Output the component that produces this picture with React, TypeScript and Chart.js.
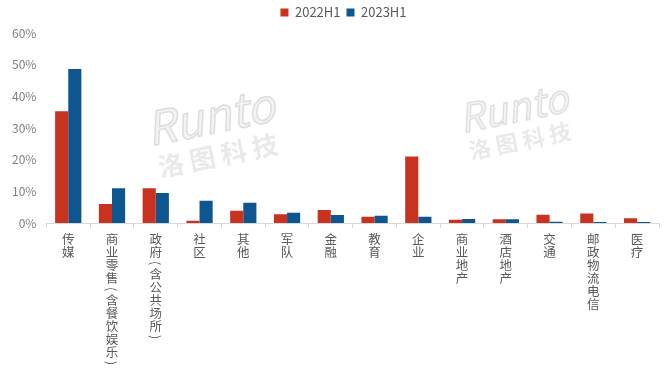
import React, { useEffect, useRef } from "react";
import { Chart, registerables } from "chart.js";

Chart.register(...registerables);

const categories: string[] = [
  "传媒",
  "商业零售(含餐饮娱乐)",
  "政府（含公共场所）",
  "社区",
  "其他",
  "军队",
  "金融",
  "教育",
  "企业",
  "商业地产",
  "酒店地产",
  "交通",
  "邮政物流电信",
  "医疗",
];
const series2022H1: number[] = [35.3, 6.0, 11.0, 0.7, 3.9, 2.8, 4.1, 2.0, 21.0, 1.0, 1.2, 2.6, 3.0, 1.5];
const series2023H1: number[] = [48.6, 11.0, 9.5, 7.0, 6.4, 3.2, 2.5, 2.3, 2.0, 1.3, 1.2, 0.4, 0.3, 0.3];
const yTicks: number[] = [0, 10, 20, 30, 40, 50, 60];
const seriesNames: string[] = ["2022H1", "2023H1"];

const FONT = "'Noto Sans CJK SC', 'Noto Sans', sans-serif";

const watermark = {
  id: "watermark",
  beforeDatasetsDraw(chart: any) {
    const ctx = chart.ctx;
    const spots = [
      { x: 212, y: 126, s: 1 },
      { x: 515, y: 116, s: 0.85 },
    ];
    ctx.save();
    for (const p of spots) {
      ctx.save();
      ctx.translate(p.x, p.y);
      ctx.rotate(-0.2);
      ctx.scale(p.s, p.s);
      ctx.textAlign = "center";
      ctx.textBaseline = "middle";
      ctx.strokeStyle = "rgba(195,195,195,0.5)";
      ctx.fillStyle = "rgba(232,232,232,0.5)";
      ctx.lineWidth = 1.5;
      ctx.font = "italic 46px " + FONT;
      ctx.fillText("Runto", 0, -10);
      ctx.strokeText("Runto", 0, -10);
      ctx.font = "bold 26px " + FONT;
      ctx.fillStyle = "rgba(215,215,215,0.55)";
      ctx.fillText("洛 图 科 技", 0, 30);
      ctx.restore();
    }
    ctx.restore();
  },
};

const legendSpace = {
  id: "legendSpace",
  beforeInit(chart: any) {
    const legend = chart.legend;
    if (!legend) return;
    const fit = legend.fit;
    legend.fit = function () {
      fit.call(this);
      this.height += 4;
    };
  },
  afterLayout(chart: any) {
    const legend = chart.legend;
    if (!legend) return;
    legend.left += 13;
    legend.right += 13;
  },
};

const verticalLabels = {
  id: "verticalLabels",
  afterDraw(chart: any) {
    const ctx = chart.ctx;
    const xs = chart.scales.x;
    ctx.save();
    ctx.fillStyle = "#595959";
    ctx.font = "12.5px " + FONT;
    ctx.textAlign = "center";
    ctx.textBaseline = "middle";
    categories.forEach((label, i) => {
      const x = xs.getPixelForValue(i);
      let y = xs.top + 16;
      for (const ch of Array.from(label)) {
        const isOpen = ch === "(" || ch === "（";
        const isClose = ch === ")" || ch === "）";
        if (isOpen || isClose) {
          const cy = y - 2;
          ctx.save();
          ctx.translate(x, cy);
          ctx.rotate(Math.PI / 2);
          ctx.fillText(isOpen ? "(" : ")", 0, 0);
          ctx.restore();
          y += 9;
        } else {
          ctx.fillText(ch, x, y);
          y += 13;
        }
      }
    });
    ctx.restore();
  },
};

export default function App() {
  const ref = useRef<HTMLCanvasElement>(null);
  useEffect(() => {
    document.body.style.margin = "0";
    const chart = new Chart(ref.current as HTMLCanvasElement, {
      type: "bar",
      data: {
        labels: categories,
        datasets: [
          {
            label: seriesNames[0],
            data: series2022H1,
            backgroundColor: "#C9321F",
            categoryPercentage: 0.6,
            barPercentage: 1,
          },
          {
            label: seriesNames[1],
            data: series2023H1,
            backgroundColor: "#0E5690",
            categoryPercentage: 0.6,
            barPercentage: 1,
          },
        ],
      },
      options: {
        animation: false,
        responsive: false,
        layout: { padding: { left: 2, right: 5, top: 0, bottom: 0 } },
        plugins: {
          legend: {
            position: "top",
            labels: {
              boxWidth: 8,
              boxHeight: 8,
              padding: 6,
              color: "#595959",
              font: { family: FONT, size: 13 },
            },
          },
          tooltip: { enabled: false },
        },
        scales: {
          x: {
            afterFit(axis: any) {
              axis.height = 147;
            },
            grid: {
              display: true,
              drawOnChartArea: false,
              drawTicks: true,
              tickLength: 5,
              color: "#D9D9D9",
            },
            border: { display: true, color: "#D9D9D9" },
            ticks: {
              autoSkip: false,
              maxRotation: 0,
              minRotation: 0,
              callback: () => "",
            },
          },
          y: {
            min: 0,
            max: 60,
            afterBuildTicks(axis: any) {
              axis.ticks = yTicks.map((v) => ({ value: v }));
            },
            grid: { display: false, drawTicks: false },
            border: { display: false },
            ticks: {
              padding: 10,
              color: "#7F7F7F",
              font: { family: FONT, size: 12 },
              callback: (v: any) => v + "%",
            },
          },
        },
      },
      plugins: [watermark, legendSpace, verticalLabels],
    });
    return () => chart.destroy();
  }, []);
  return (
    <div style={{ width: 664, height: 370 }}>
      <canvas ref={ref} width={664} height={370} />
    </div>
  );
}
